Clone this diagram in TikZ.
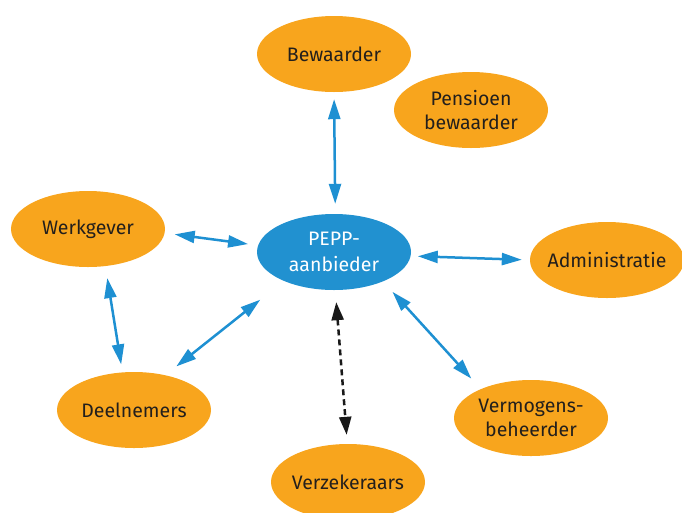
\documentclass[tikz,border=0pt]{standalone}
\usepackage{fontspec}
\setmainfont{Fira Sans}
\usetikzlibrary{shapes.geometric,arrows.meta}
\definecolor{orng}{RGB}{248,165,29}
\definecolor{bluefill}{RGB}{33,145,208}
\definecolor{bluearr}{RGB}{30,144,210}
\definecolor{txt}{RGB}{35,31,28}
\tikzset{
  orangenode/.style={ellipse, fill=orng, draw=none, minimum width=154pt, minimum height=76pt, inner xsep=-20pt, inner ysep=0pt, align=center, text=txt, font=\fontsize{19.5}{24}\selectfont},
  pepnode/.style={ellipse, fill=bluefill, draw=none, minimum width=154pt, minimum height=76pt, inner xsep=-20pt, inner ysep=0pt, align=center, text=white, font=\fontsize{19.5}{26}\selectfont},
  arr/.style={draw=bluearr, line width=2.5pt, {Triangle[length=20pt,width=12pt]}-{Triangle[length=20pt,width=12pt]}},
  darr/.style={draw=black!90, line width=2.5pt, dash pattern=on 6pt off 4pt, {Triangle[length=18pt,width=12pt]}-{Triangle[length=18pt,width=12pt]}}
}
\begin{document}
\begin{tikzpicture}[x=1pt,y=-1pt]
\useasboundingbox (0,0) rectangle (682,512);
\node[orangenode] (bew) at (334,54) {Bewaarder};
\node[orangenode] (pens) at (471,110) {Pensioen\\bewaarder};
\node[orangenode] (werk) at (88,229) {Werkgever};
\node[pepnode] (pepp) at (334,252) {PEPP-\\aanbieder};
\node[orangenode] (adm) at (607,260) {Administratie};
\node[orangenode] (deel) at (134,410) {Deelnemers};
\node[orangenode] (verm) at (531,418) {Vermogens-\\beheerder};
\node[orangenode] (verz) at (348,482) {Verzekeraars};

\draw[arr, shorten <=7pt, shorten >=10pt] (bew.-90) -- (pepp.88);
\draw[arr, shorten <=10pt, shorten >=10pt] (werk.-3) -- (pepp.175);
\draw[arr, shorten <=12pt, shorten >=8pt] (werk.-65) -- (deel.107);
\draw[arr, shorten <=14pt, shorten >=30pt] (deel.48) -- (pepp.210);
\draw[arr, shorten <=7pt, shorten >=8pt] (pepp.-3) -- (adm.180);
\draw[arr, shorten <=14pt, shorten >=14pt] (pepp.-31) -- (verm.150);
\draw[darr, shorten <=12pt, shorten >=9pt] (pepp.-88) -- (verz.91);
\end{tikzpicture}
\end{document}
